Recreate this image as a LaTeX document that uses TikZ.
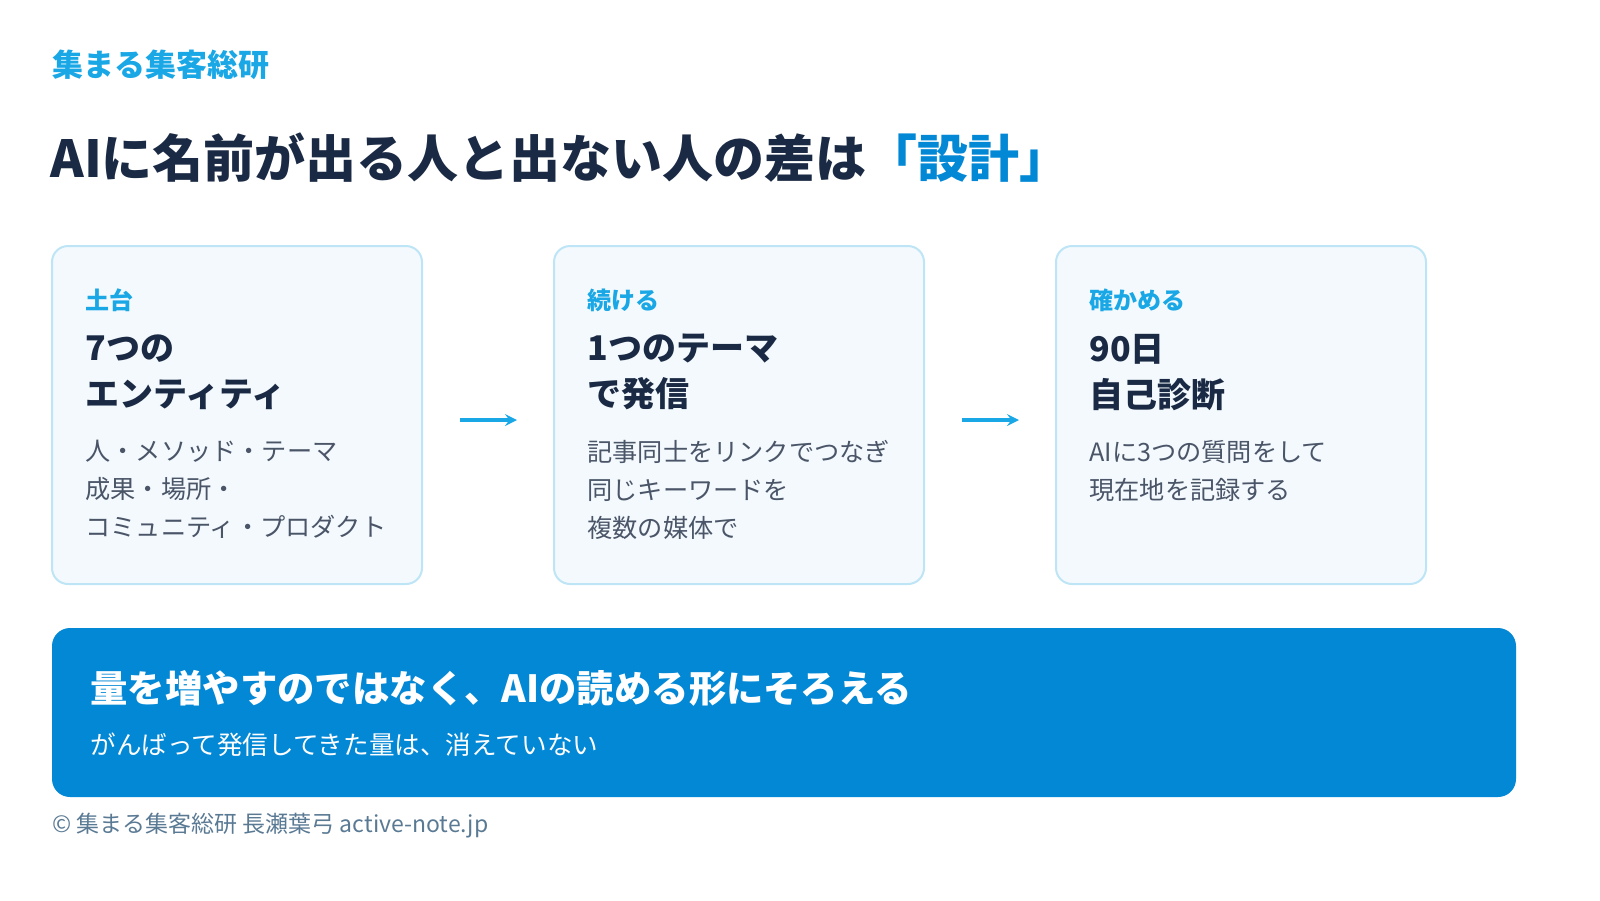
\documentclass[tikz,border=0pt]{standalone}
\usepackage{fontspec}
\setmainfont{Noto Sans CJK JP}
\usetikzlibrary{positioning}
\definecolor{brand}{HTML}{1AA7E6}
\definecolor{navy}{HTML}{1B2A44}
\definecolor{deep}{HTML}{0388D6}
\definecolor{boxfill}{HTML}{F3F9FD}
\definecolor{boxline}{HTML}{BDE5F6}
\definecolor{body}{HTML}{4A5568}
\definecolor{foot}{HTML}{5A7A94}
\tikzset{
  card/.style={draw=boxline,line width=1pt,fill=boxfill,rounded corners=8pt},
  tag/.style={anchor=west,inner sep=0pt,text=brand,font=\fontsize{12}{14}\selectfont\bfseries},
  head/.style={anchor=north west,inner sep=0pt,text=navy,align=left,font=\fontsize{17}{23}\selectfont\bfseries},
  desc/.style={anchor=north west,inner sep=0pt,text=body,align=left,font=\fontsize{12.6}{19}\selectfont},
  flowarrow/.style={->,>=stealth,draw=brand,line width=1.6pt}
}
\begin{document}
\begin{tikzpicture}[x=0.5pt,y=-0.5pt]
  \useasboundingbox (0,0) rectangle (1600,900);
  \node[anchor=west,inner sep=0pt,text=brand,font=\fontsize{15.5}{18}\selectfont\bfseries] (brandname) at (52,65) {集まる集客総研};
  \node[anchor=west,inner sep=0pt,text=navy,font=\fontsize{25.5}{30}\selectfont\bfseries] (title) at (50,158)
    {AIに名前が出る人と出ない人の差は\textcolor{deep}{「設計」}};

  % cards
  \draw[card] (52,246) rectangle (422,584);
  \draw[card] (554,246) rectangle (924,584);
  \draw[card] (1056,246) rectangle (1426,584);

  \node[tag] (tagA) at (85,300) {土台};
  \node[head] (headA) at (85,334) {7つの\\エンティティ};
  \node[desc] (descA) at (85,440) {人・メソッド・テーマ\\成果・場所・\\コミュニティ・プロダクト};

  \node[tag] (tagB) at (587,300) {続ける};
  \node[head] (headB) at (587,334) {1つのテーマ\\で発信};
  \node[desc] (descB) at (587,440) {記事同士をリンクでつなぎ\\同じキーワードを\\複数の媒体で};

  \node[tag] (tagC) at (1089,300) {確かめる};
  \node[head] (headC) at (1089,334) {90日\\自己診断};
  \node[desc] (descC) at (1089,440) {AIに3つの質問をして\\現在地を記録する};

  \coordinate (a1) at (460,420); \coordinate (a2) at (517,420);
  \coordinate (b1) at (962,420); \coordinate (b2) at (1019,420);
  \draw[flowarrow] (a1) -- (a2);
  \draw[flowarrow] (b1) -- (b2);

  % banner
  \fill[deep,rounded corners=9pt] (52,628) rectangle (1516,797);
  \node[anchor=west,inner sep=0pt,text=white,font=\fontsize{18.7}{22}\selectfont\bfseries] (msg) at (90,688)
    {量を増やすのではなく、AIの読める形にそろえる};
  \node[anchor=west,inner sep=0pt,text=white,font=\fontsize{12.8}{15}\selectfont] (sub) at (90,745)
    {がんばって発信してきた量は、消えていない};

  \node[anchor=west,inner sep=0pt,text=foot,font=\fontsize{11.5}{14}\selectfont] (credit) at (52,826)
    {© 集まる集客総研 長瀬葉弓 active-note.jp};
\end{tikzpicture}
\end{document}
